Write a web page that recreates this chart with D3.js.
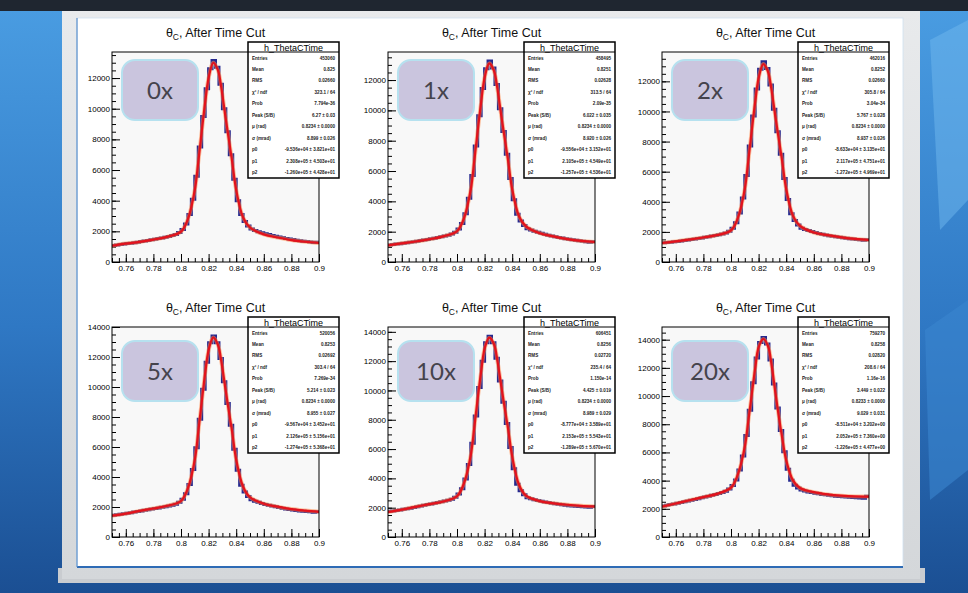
<!DOCTYPE html>
<html>
<head>
<meta charset="utf-8">
<script src="https://cdn.jsdelivr.net/npm/d3@7"></script>
<style>
  body { margin: 0; background: #1e5aa0; }
  svg { display: block; }
  .tick text { font-family: "Liberation Sans", Arial, sans-serif; font-size: 8px; fill: #000; }
  .tick line { stroke: #000; }
</style>
</head>
<body>
<div id="chart"></div>
<script>
// ---- data ----
const panelNames = ["0x", "1x", "2x", "5x", "10x", "20x"];
const binLo = 0.75, binW = 0.0025;   // 60 bins from 0.75 to 0.90

const counts0x = [1080,1110,1140,1170,1200,1230,1260,1290,1330,1370,
  1410,1450,1490,1530,1570,1620,1670,1730,1800,1920,
  2120,2480,3100,4100,5600,7500,9500,11300,12600,13150,
  12700,11600,10000,8500,7000,5400,4000,3100,2650,2350,
  2150,2060,1980,1910,1850,1790,1730,1680,1630,1580,
  1540,1500,1460,1420,1390,1360,1330,1300,1270,1290];
const counts1x = [1120,1150,1180,1210,1240,1270,1300,1330,1370,1410,
  1450,1490,1530,1570,1610,1660,1710,1770,1840,1960,
  2170,2540,3180,4200,5700,7650,9650,11450,12750,13250,
  12800,11700,10100,8600,7100,5500,4100,3150,2700,2400,
  2200,2110,2030,1960,1890,1830,1770,1720,1670,1620,
  1580,1540,1500,1460,1430,1400,1370,1340,1310,1330];
const counts2x = [1280,1300,1320,1350,1370,1400,1430,1460,1490,1530,
  1560,1600,1640,1680,1720,1760,1810,1860,1930,2040,
  2240,2600,3250,4250,5750,7700,9700,11500,12800,13300,
  12850,11750,10150,8650,7150,5550,4150,3200,2750,2450,
  2250,2160,2090,2020,1960,1900,1850,1800,1750,1710,
  1670,1640,1610,1580,1550,1520,1500,1470,1450,1480];
const counts5x = [1450,1480,1510,1550,1580,1620,1660,1700,1740,1780,
  1820,1860,1900,1940,1980,2020,2070,2120,2190,2310,
  2520,2880,3500,4500,5950,7850,9850,11650,12950,13400,
  12950,11900,10350,8900,7450,5850,4450,3450,3000,2700,
  2480,2390,2310,2240,2170,2110,2060,2010,1960,1910,
  1870,1830,1800,1770,1740,1720,1700,1680,1650,1690];
const counts10x = [1750,1780,1810,1850,1890,1930,1970,2010,2060,2110,
  2160,2210,2250,2300,2350,2400,2450,2510,2580,2710,
  2930,3300,3950,4950,6400,8250,10200,12000,13250,13700,
  13250,12200,10650,9200,7750,6100,4650,3600,3150,2880,
  2680,2610,2550,2490,2440,2390,2350,2310,2270,2230,
  2200,2170,2140,2120,2100,2080,2060,2050,2030,2080];
const counts20x = [2200,2250,2300,2350,2400,2450,2500,2550,2600,2660,
  2720,2780,2840,2900,2960,3020,3080,3150,3240,3400,
  3650,4050,4750,5750,7200,9000,10950,12700,13800,14150,
  13700,12550,10850,9150,7550,6050,4800,4025,3675,3470,
  3330,3260,3200,3150,3100,3060,3020,2990,2960,2930,
  2900,2880,2860,2840,2820,2800,2780,2760,2750,2900];

// red fit curve, sampled at fitX
const fitX = [0.75,0.76,0.77,0.78,0.79,0.80,0.805,0.81,0.8125,0.815,0.8175,0.82,0.8234,
  0.8268,0.8295,0.832,0.8345,0.837,0.84,0.845,0.85,0.86,0.87,0.88,0.89,0.90];
const fit0x = [1060,1200,1310,1460,1640,1980,2800,4700,6500,8500,10400,12000,13000,
  12500,11200,9600,8100,6600,4700,2900,2250,1800,1600,1430,1320,1240];
const fit1x = [1100,1230,1350,1500,1690,2030,2870,4800,6650,8650,10550,12150,13100,
  12600,11300,9700,8200,6700,4800,3000,2350,1900,1690,1510,1390,1320];
const fit2x = [1260,1370,1490,1630,1790,2100,2930,4850,6700,8700,10600,12200,13150,
  12650,11350,9750,8250,6750,4850,3050,2400,1960,1780,1640,1530,1460];
const fit5x = [1420,1560,1740,1900,2080,2400,3250,5150,7000,9000,10900,12450,13300,
  12800,11550,10000,8500,7050,5150,3350,2650,2220,2020,1860,1760,1680];
const fit10x = [1700,1870,2060,2240,2420,2780,3650,5600,7450,9450,11300,12850,13600,
  13150,11900,10350,8850,7400,5500,3550,2820,2450,2300,2200,2130,2080];
const fit20x = [2150,2380,2610,2830,3060,3500,4450,6400,8200,10100,11950,13450,14050,
  13550,12150,10350,8650,7100,5450,4000,3480,3180,3020,2930,2880,2870];

const yMaxes = [13700, 13850, 13950, 14000, 14330, 14900];
const xTickVals = [0.76, 0.78, 0.8, 0.82, 0.84, 0.86, 0.88, 0.9];

const statNames = ["Entries", "Mean", "RMS", "\u03c7\u00b2 / ndf", "Prob", "Peak (S/B)",
  "\u03bc (rad)", "\u03c3 (mrad)", "p0", "p1", "p2"];
const stats0x = ["453060","0.825","0.02660","323.1 / 64","7.794e-36","6.27 \u00b1 0.03","0.8234 \u00b1 0.0000",
  "8.899 \u00b1 0.026","-9.536e+04 \u00b1 3.821e+01","2.308e+05 \u00b1 4.503e+01","-1.260e+05 \u00b1 4.428e+01"];
const stats1x = ["458495","0.8251","0.02628","313.5 / 64","2.09e-35","6.022 \u00b1 0.035","0.8234 \u00b1 0.0000",
  "8.920 \u00b1 0.026","-9.556e+04 \u00b1 3.152e+01","2.105e+05 \u00b1 4.549e+01","-1.257e+05 \u00b1 4.536e+01"];
const stats2x = ["462016","0.8252","0.02660","305.8 / 64","3.04e-34","5.767 \u00b1 0.028","0.8234 \u00b1 0.0000",
  "8.937 \u00b1 0.026","-8.633e+04 \u00b1 3.135e+01","2.117e+05 \u00b1 4.751e+01","-1.272e+05 \u00b1 4.969e+01"];
const stats5x = ["520056","0.8253","0.02692","303.4 / 64","7.269e-34","5.214 \u00b1 0.023","0.8234 \u00b1 0.0000",
  "8.955 \u00b1 0.027","-9.567e+04 \u00b1 3.452e+01","2.126e+05 \u00b1 5.156e+01","-1.274e+05 \u00b1 5.368e+01"];
const stats10x = ["606451","0.8256","0.02720","235.4 / 64","1.150e-14","4.425 \u00b1 0.019","0.8234 \u00b1 0.0000",
  "8.989 \u00b1 0.029","-8.777e+04 \u00b1 3.589e+01","2.153e+05 \u00b1 5.543e+01","-1.289e+05 \u00b1 5.670e+01"];
const stats20x = ["759270","0.8258","0.02820","208.6 / 64","1.16e-16","3.449 \u00b1 0.022","0.8233 \u00b1 0.0000",
  "9.029 \u00b1 0.031","-8.511e+04 \u00b1 3.202e+00","2.052e+05 \u00b1 7.360e+00","-1.226e+05 \u00b1 4.477e+00"];

const allCounts = [counts0x, counts1x, counts2x, counts5x, counts10x, counts20x];
const allFits = [fit0x, fit1x, fit2x, fit5x, fit10x, fit20x];
const allStats = [stats0x, stats1x, stats2x, stats5x, stats10x, stats20x];

// ---- page ----
const W = 968, H = 593;
const svg = d3.select("#chart").append("svg").attr("width", W).attr("height", H);
const defs = svg.append("defs");

let bg = defs.append("linearGradient").attr("id", "bgGrad").attr("x1", 0).attr("y1", 0).attr("x2", 0).attr("y2", 1);
bg.append("stop").attr("offset", "0%").attr("stop-color", "#4a9de2");
bg.append("stop").attr("offset", "55%").attr("stop-color", "#2f78c4");
bg.append("stop").attr("offset", "100%").attr("stop-color", "#1b4f93");

let frameGrad = defs.append("linearGradient").attr("id", "frameGrad").attr("x1", 0).attr("y1", 0).attr("x2", 0).attr("y2", 1);
frameGrad.append("stop").attr("offset", "0%").attr("stop-color", "#e8eaec");
frameGrad.append("stop").attr("offset", "100%").attr("stop-color", "#d4d7da");

svg.append("rect").attr("width", W).attr("height", H).attr("fill", "url(#bgGrad)");
// lighter hex-ish shapes on the right
svg.append("path").attr("d", "M930,40 L968,20 L968,200 L940,230 Z").attr("fill", "#6fb8ee").attr("opacity", 0.5);
svg.append("path").attr("d", "M925,330 L968,300 L968,470 L930,500 Z").attr("fill", "#3b86cf").attr("opacity", 0.6);
svg.append("rect").attr("x", 0).attr("y", 0).attr("width", W).attr("height", 11).attr("fill", "#1f2630");

// slide frame
svg.append("rect").attr("x", 58).attr("y", 568).attr("width", 867).attr("height", 15)
  .attr("fill", "#c9ccd0");
svg.append("rect").attr("x", 62).attr("y", 11).attr("width", 858).attr("height", 568)
  .attr("fill", "url(#frameGrad)");
svg.append("rect").attr("x", 77).attr("y", 18).attr("width", 826).attr("height", 549)
  .attr("fill", "#fff").attr("stroke", "#cfe0ef").attr("stroke-width", 0.8);
svg.append("line").attr("x1", 77).attr("x2", 903).attr("y1", 567).attr("y2", 567)
  .attr("stroke", "#2e6bb5").attr("stroke-width", 2);
svg.append("line").attr("x1", 77).attr("x2", 77).attr("y1", 18).attr("y2", 567)
  .attr("stroke", "#5a8fcc").attr("stroke-width", 1.2);

// ---- panels ----
const frameLefts = [112, 388, 662];
const frameTops = [52, 327];
const fw = 207, fh = 210;
const badgeOffY = [8, 14];

panelNames.forEach((name, k) => {
  const col = k % 3, row = Math.floor(k / 3);
  const g = svg.append("g").attr("transform", `translate(${frameLefts[col]},${frameTops[row]})`);

  const x = d3.scaleLinear().domain([0.75, 0.9]).range([0, fw]);
  const y = d3.scaleLinear().domain([0, yMaxes[k]]).range([fh, 0]);

  g.append("rect").attr("width", fw).attr("height", fh).attr("fill", "#f8f8f8");

  const clipId = "clip" + k;
  defs.append("clipPath").attr("id", clipId).append("rect").attr("width", fw).attr("height", fh);

  // axes, ticks inward like ROOT
  const yMajor = d3.range(0, yMaxes[k] + 1, 2000);
  const yMinor = d3.range(0, yMaxes[k] + 1, 500);
  g.append("g").call(d3.axisLeft(y).tickValues(yMinor).tickSize(-4).tickFormat("").tickSizeOuter(0))
    .call(a => a.select(".domain").remove());
  g.append("g").call(d3.axisLeft(y).tickValues(yMajor).tickSize(-8).tickPadding(2).tickSizeOuter(0)
      .tickFormat(d3.format("d")))
    .call(a => a.select(".domain").remove());

  const xMinor = d3.range(0, 31).map(i => 0.75 + i * 0.005);
  g.append("g").attr("transform", `translate(0,${fh})`)
    .call(d3.axisBottom(x).tickValues(xMinor).tickSize(-4).tickFormat("").tickSizeOuter(0))
    .call(a => a.select(".domain").remove());
  g.append("g").attr("transform", `translate(0,${fh})`)
    .call(d3.axisBottom(x).tickValues(xTickVals).tickSize(-8).tickPadding(3).tickSizeOuter(0)
      .tickFormat(d3.format("~g")))
    .call(a => a.select(".domain").remove());

  // histogram
  const counts = allCounts[k];
  const pts = counts.map((c, i) => [binLo + i * binW, c]);
  pts.push([0.9, counts[counts.length - 1]]);
  const step = d3.line().x(d => x(d[0])).y(d => y(d[1])).curve(d3.curveStepAfter);
  g.append("path").attr("d", step(pts)).attr("fill", "none")
    .attr("stroke", "#25288f").attr("stroke-width", 3).attr("clip-path", `url(#${clipId})`);

  // fit
  const fitPts = fitX.map((v, i) => [v, allFits[k][i]]);
  const smooth = d3.line().x(d => x(d[0])).y(d => y(d[1])).curve(d3.curveCatmullRom.alpha(0.5));
  g.append("path").attr("d", smooth(fitPts)).attr("fill", "none")
    .attr("stroke", "#ff8a4a").attr("stroke-width", 4).attr("opacity", 0.55).attr("clip-path", `url(#${clipId})`);
  g.append("path").attr("d", smooth(fitPts)).attr("fill", "none")
    .attr("stroke", "#e3121c").attr("stroke-width", 2.2).attr("clip-path", `url(#${clipId})`);

  g.append("rect").attr("width", fw).attr("height", fh).attr("fill", "none").attr("stroke", "#000").attr("stroke-width", 1);

  // title
  const t = g.append("text").attr("x", fw / 2).attr("y", -15).attr("text-anchor", "middle")
    .attr("font-family", "'Liberation Sans', Arial, sans-serif").attr("font-size", 12.5).attr("fill", "#111");
  t.append("tspan").text("\u03b8");
  t.append("tspan").attr("font-size", 8.5).attr("dy", 3).text("C");
  t.append("tspan").attr("dy", -3).text(", After Time Cut");

  // badge
  const b = g.append("g").attr("transform", `translate(10,${badgeOffY[row]})`);
  b.append("rect").attr("width", 76).attr("height", 60).attr("rx", 13)
    .attr("fill", "#cac5de").attr("stroke", "#b6e1ef").attr("stroke-width", 2);
  b.append("text").attr("x", 38).attr("y", 39).attr("text-anchor", "middle")
    .attr("font-family", "Lato, 'Open Sans', sans-serif").attr("font-size", 24).attr("fill", "#45434c")
    .text(name);

  // stats box
  const sx = fw - 71, sy = -10, sw = 91, sh = 136;
  const s = g.append("g").attr("transform", `translate(${sx},${sy})`);
  s.append("rect").attr("width", sw).attr("height", sh).attr("fill", "#fff").attr("stroke", "#000").attr("stroke-width", 1.5);
  s.append("line").attr("x1", 0).attr("x2", sw).attr("y1", 10).attr("y2", 10).attr("stroke", "#000").attr("stroke-width", 1);
  s.append("text").attr("x", sw / 2).attr("y", 8.5).attr("text-anchor", "middle")
    .attr("font-family", "'Liberation Sans', Arial, sans-serif").attr("font-size", 9).attr("fill", "#000")
    .text("h_ThetaCTime");
  const rowH = (sh - 10) / statNames.length;
  statNames.forEach((nm, i) => {
    const ry = 10 + rowH * (i + 0.5) + 1.8;
    s.append("text").attr("x", 4).attr("y", ry).attr("font-family", "'Liberation Sans', Arial, sans-serif")
      .attr("font-size", 4.6).attr("font-weight", "bold").attr("fill", "#222").text(nm);
    s.append("text").attr("x", sw - 4).attr("y", ry).attr("text-anchor", "end")
      .attr("font-family", "'Liberation Sans', Arial, sans-serif")
      .attr("font-size", 4.6).attr("font-weight", "bold").attr("fill", "#222").text(allStats[k][i]);
  });
});
</script>
</body>
</html>
